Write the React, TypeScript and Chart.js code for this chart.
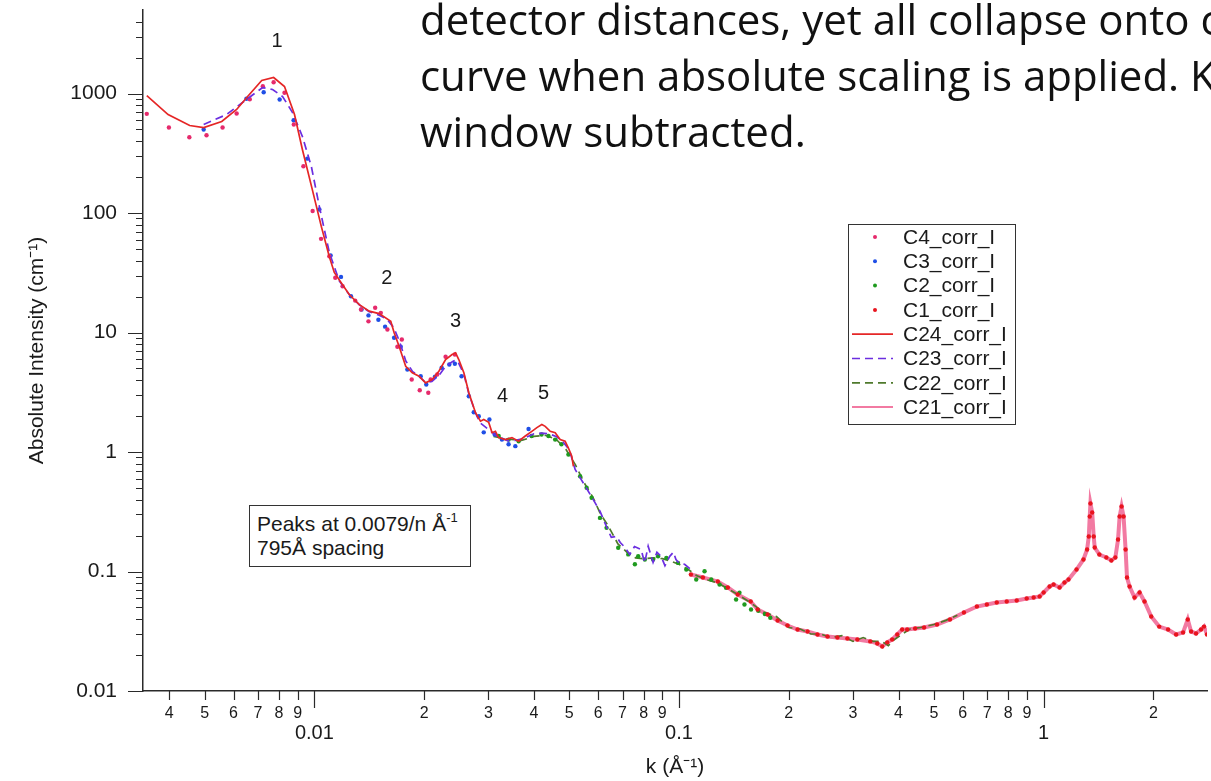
import React, { useEffect, useRef } from 'react';
import { Chart, registerables } from 'chart.js';

Chart.register(...registerables);

const FONT = '"Liberation Sans", Arial, Helvetica, sans-serif';

// ---------------- data (k in 1/Å, intensity in 1/cm) ----------------
const c4K = [0.00347, 0.00399, 0.00454, 0.00506, 0.0056, 0.00612, 0.00665, 0.00722, 0.00773, 0.00828, 0.00878, 0.00933, 0.00989, 0.01043, 0.01099, 0.01141, 0.01195, 0.01294, 0.01342, 0.01407, 0.01468, 0.01521, 0.01586, 0.01689, 0.01737, 0.01849, 0.01945, 0.02053, 0.02084, 0.02172, 0.0229, 0.02428];
const c4I = [676, 519, 431, 448, 519, 680, 896, 1151, 1243, 1014, 550, 246, 104, 60.8, 43.5, 28.7, 24.4, 18.5, 15.6, 12.4, 16.1, 14.6, 10.6, 7.59, 8.74, 4.04, 3.29, 3.13, 4.04, 4.45, 6.26, 6.54];

const c3K = [0.00497, 0.00651, 0.00726, 0.00803, 0.00877, 0.00956, 0.01032, 0.01108, 0.01183, 0.0126, 0.01347, 0.01407, 0.01498, 0.01563, 0.01654, 0.01725, 0.01799, 0.01957, 0.02027, 0.02141, 0.02234, 0.02344, 0.02428, 0.02533, 0.02652, 0.02736, 0.02824, 0.02914, 0.0302, 0.03122, 0.03269, 0.03409, 0.03557, 0.03867];
const c3I = [500, 903, 1025, 891, 597, 285, 107, 44.1, 29.2, 20.1, 15.6, 13.9, 12.8, 11.2, 9.03, 7.59, 4.9, 4.31, 3.67, 4.26, 5.07, 5.4, 5.47, 4.31, 2.93, 2.15, 1.99, 1.46, 1.87, 1.4, 1.27, 1.16, 1.12, 1.56];

const c2K = [0.03202, 0.03409, 0.03632, 0.0394, 0.04198, 0.04385, 0.04575, 0.0476, 0.04974, 0.05355, 0.0558, 0.05758, 0.06071, 0.06328, 0.06812, 0.07256, 0.07568, 0.07727, 0.0806, 0.08492, 0.08761, 0.09232, 0.09938, 0.1047, 0.1115, 0.1175, 0.1226, 0.1292, 0.1346, 0.1434, 0.1465, 0.1512, 0.1576, 0.165, 0.172, 0.178];
const c2I = [1.36, 1.27, 1.23, 1.36, 1.4, 1.36, 1.27, 1.16, 0.953, 0.627, 0.502, 0.414, 0.281, 0.232, 0.158, 0.139, 0.115, 0.134, 0.126, 0.126, 0.134, 0.13, 0.118, 0.104, 0.0857, 0.1006, 0.0857, 0.0778, 0.073, 0.0583, 0.0664, 0.053, 0.0481, 0.047, 0.044, 0.041];

const c1K = [0.1078, 0.1163, 0.1278, 0.1361, 0.1449, 0.1573, 0.1643, 0.175, 0.1864, 0.1985, 0.2114, 0.2252, 0.2398, 0.2554, 0.2719, 0.2896, 0.3084, 0.3346, 0.3497, 0.3609, 0.3724, 0.3843, 0.3967, 0.4093, 0.4224, 0.4442, 0.47, 0.5101, 0.5535, 0.6045, 0.6561, 0.6987, 0.7438, 0.7922, 0.8437, 0.8986, 0.9391, 0.9752, 1.0, 1.0385, 1.065, 1.106, 1.141, 1.17, 1.231, 1.286, 1.316, 1.33, 1.338, 1.344, 1.359, 1.372, 1.381, 1.422, 1.486, 1.534, 1.573, 1.6, 1.616, 1.636, 1.657, 1.678, 1.693, 1.721, 1.776, 1.833, 1.891, 1.973, 2.075, 2.195, 2.309, 2.413, 2.485, 2.538, 2.618, 2.702, 2.754, 2.806];
const c1I = [0.0944, 0.0891, 0.0825, 0.0735, 0.0642, 0.0561, 0.0481, 0.0437, 0.0389, 0.0353, 0.0327, 0.0315, 0.0297, 0.0286, 0.028, 0.0275, 0.027, 0.026, 0.025, 0.0236, 0.0255, 0.027, 0.0297, 0.0327, 0.0327, 0.0333, 0.034, 0.036, 0.0397, 0.0454, 0.0509, 0.0529, 0.055, 0.0561, 0.0572, 0.0594, 0.0606, 0.0618, 0.0667, 0.0749, 0.0778, 0.0735, 0.0809, 0.0857, 0.1039, 0.126, 0.1528, 0.1963, 0.2886, 0.3707, 0.3117, 0.1963, 0.1588, 0.1388, 0.131, 0.1237, 0.131, 0.1853, 0.2886, 0.3499, 0.2886, 0.1528, 0.0891, 0.0749, 0.0606, 0.0667, 0.0561, 0.042, 0.0346, 0.0327, 0.0297, 0.0309, 0.0397, 0.0315, 0.0303, 0.0327, 0.0346, 0.0297];

const c24K = [0.00347, 0.00397, 0.00455, 0.00497, 0.00557, 0.00612, 0.00656, 0.00717, 0.00773, 0.00828, 0.00882, 0.00927, 0.00987, 0.01045, 0.01099, 0.01134, 0.01183, 0.01246, 0.01328, 0.01414, 0.01505, 0.0162, 0.01654, 0.01707, 0.0178, 0.01856, 0.01936, 0.02019, 0.02104, 0.02195, 0.0229, 0.02386, 0.02439, 0.02489, 0.0257, 0.02652, 0.02766, 0.02854, 0.02914, 0.03007, 0.03071, 0.03137, 0.03202, 0.03341, 0.03482, 0.03632, 0.03788, 0.03948, 0.04075, 0.04205, 0.04296, 0.04434, 0.04575, 0.04721, 0.04871, 0.04974, 0.05081, 0.05133];
const c24I = [962, 667, 540, 519, 583, 735, 944, 1285, 1361, 1144, 667, 340, 157, 77, 43, 31.8, 26.2, 20.8, 17.1, 15.1, 14.4, 12.4, 10.0, 7.68, 5.22, 4.6, 4.31, 3.79, 4.04, 4.74, 5.94, 6.54, 6.76, 5.94, 4.6, 3.13, 2.13, 1.81, 1.87, 1.77, 1.45, 1.49, 1.32, 1.27, 1.32, 1.23, 1.36, 1.49, 1.6, 1.7, 1.64, 1.49, 1.45, 1.27, 1.23, 1.08, 0.92, 0.76];

const c23K = [0.00497, 0.00574, 0.00651, 0.00721, 0.00768, 0.00818, 0.00871, 0.00927, 0.00981, 0.01032, 0.01099, 0.0117, 0.0125, 0.0133, 0.0141, 0.015, 0.0158, 0.0165, 0.0171, 0.0178, 0.0186, 0.0194, 0.0202, 0.021, 0.022, 0.0229, 0.0239, 0.0244, 0.0249, 0.0257, 0.0265, 0.0277, 0.0285, 0.03, 0.0314, 0.0327, 0.034, 0.0355, 0.037, 0.0385, 0.04, 0.042, 0.044, 0.046, 0.048, 0.05, 0.0519, 0.0553, 0.0575, 0.0607, 0.0632, 0.0652, 0.0673, 0.069, 0.0711, 0.0733, 0.0755, 0.0787, 0.0805, 0.0823, 0.0849, 0.087, 0.0893, 0.0915, 0.0943, 0.0965, 0.0981, 0.1, 0.1036, 0.1078];
const c23I = [550, 667, 891, 1122, 1080, 944, 693, 437, 245, 113, 46.7, 27, 20.5, 17, 15, 14, 13, 11, 8.5, 5.8, 4.7, 4.3, 3.8, 3.9, 4.4, 5.2, 5.7, 5.9, 5.5, 4.5, 3.1, 2.1, 1.75, 1.55, 1.38, 1.3, 1.24, 1.25, 1.28, 1.35, 1.42, 1.44, 1.42, 1.35, 1.22, 1.05, 0.714, 0.518, 0.425, 0.32, 0.239, 0.193, 0.197, 0.175, 0.159, 0.139, 0.162, 0.153, 0.118, 0.163, 0.119, 0.145, 0.134, 0.112, 0.134, 0.145, 0.126, 0.118, 0.115, 0.104];

const c22K = [0.031, 0.034, 0.037, 0.04, 0.043, 0.046, 0.049, 0.052, 0.055, 0.058, 0.061, 0.064, 0.068, 0.072, 0.076, 0.08, 0.085, 0.09, 0.095, 0.1, 0.106, 0.112, 0.12, 0.128, 0.136, 0.145, 0.157, 0.17, 0.185, 0.2, 0.215, 0.23, 0.245, 0.26, 0.28, 0.3, 0.32, 0.34, 0.36, 0.375, 0.39, 0.41, 0.43, 0.46, 0.5, 0.54, 0.58];
const c22I = [1.35, 1.28, 1.25, 1.35, 1.38, 1.28, 1.05, 0.78, 0.55, 0.42, 0.3, 0.24, 0.17, 0.145, 0.13, 0.128, 0.13, 0.128, 0.122, 0.115, 0.104, 0.092, 0.085, 0.08, 0.072, 0.064, 0.055, 0.046, 0.042, 0.034, 0.033, 0.03, 0.03, 0.028, 0.029, 0.026, 0.028, 0.026, 0.026, 0.024, 0.027, 0.03, 0.033, 0.034, 0.036, 0.039, 0.043];

const c21K = c1K;
const c21I = c1I;

// peak annotations
const peakText = ['1', '2', '3', '4', '5'];
const peakK = [0.0079, 0.0158, 0.0244, 0.0328, 0.0425];
const peakI = [2725, 28.3, 12.4, 2.91, 3.09];

// axes
const xMin = 0.003388;
const xMax = 2.806;
const yMin = 0.01;
const yMax = 5000;
const xTickValues = [0.004, 0.005, 0.006, 0.007, 0.008, 0.009, 0.01, 0.02, 0.03, 0.04, 0.05, 0.06, 0.07, 0.08, 0.09, 0.1, 0.2, 0.3, 0.4, 0.5, 0.6, 0.7, 0.8, 0.9, 1, 2];
const xTickLabels = ['4', '5', '6', '7', '8', '9', '0.01', '2', '3', '4', '5', '6', '7', '8', '9', '0.1', '2', '3', '4', '5', '6', '7', '8', '9', '1', '2'];
const xMajorTicks = [0.01, 0.1, 1];
const yTickValues = [0.01, 0.02, 0.03, 0.04, 0.05, 0.06, 0.07, 0.08, 0.09, 0.1, 0.2, 0.3, 0.4, 0.5, 0.6, 0.7, 0.8, 0.9, 1, 2, 3, 4, 5, 6, 7, 8, 9, 10, 20, 30, 40, 50, 60, 70, 80, 90, 100, 200, 300, 400, 500, 600, 700, 800, 900, 1000, 2000, 3000, 4000];
const yMajorTicks = [0.01, 0.1, 1, 10, 100, 1000];
const yMajorLabels = ['0.01', '0.1', '1', '10', '100', '1000'];

const AXIS = '#2a2a2a';
const TEXT = '#1a1a1a';

const isIn = (arr: number[], v: number) => arr.some((a) => Math.abs(a - v) / a < 1e-6);

function dots(label: string, k: number[], I: number[], color: string, order: number) {
  return {
    label,
    data: k.map((x, i) => ({ x, y: I[i] })),
    showLine: false,
    pointRadius: 2.2,
    pointBorderWidth: 0,
    pointBackgroundColor: color,
    backgroundColor: color,
    borderColor: color,
    order,
  };
}

function line(label: string, k: number[], I: number[], color: string, width: number, dash: number[], order: number) {
  return {
    label,
    data: k.map((x, i) => ({ x, y: I[i] })),
    showLine: true,
    pointRadius: 0,
    borderColor: color,
    backgroundColor: color,
    borderWidth: width,
    borderDash: dash,
    tension: 0,
    fill: false,
    order,
  };
}

const overlayPlugin = {
  id: 'overlay',
  afterDraw(chart: any) {
    const { ctx, chartArea } = chart;
    const xs = chart.scales.x;
    const ys = chart.scales.y;
    ctx.save();
    // tick marks
    ctx.strokeStyle = AXIS;
    ctx.lineWidth = 1.2;
    ctx.beginPath();
    xTickValues.forEach((v) => {
      const px = Math.round(xs.getPixelForValue(v)) + 0.5;
      const len = isIn(xMajorTicks, v) ? 17 : 9;
      ctx.moveTo(px, chartArea.bottom);
      ctx.lineTo(px, chartArea.bottom + len);
    });
    yTickValues.forEach((v) => {
      const py = Math.round(ys.getPixelForValue(v)) + 0.5;
      const len = isIn(yMajorTicks, v) ? 15 : 7;
      ctx.moveTo(chartArea.left, py);
      ctx.lineTo(chartArea.left - len, py);
    });
    ctx.stroke();

    // peak numbers
    ctx.fillStyle = TEXT;
    ctx.font = `20px ${FONT}`;
    ctx.textAlign = 'center';
    ctx.textBaseline = 'middle';
    peakText.forEach((t, i) => {
      ctx.fillText(t, xs.getPixelForValue(peakK[i]), ys.getPixelForValue(peakI[i]));
    });

    // legend
    const lx = 848.5, ly = 224.5, lw = 167, lh = 200;
    ctx.fillStyle = '#ffffff';
    ctx.fillRect(lx, ly, lw, lh);
    ctx.strokeStyle = '#333';
    ctx.lineWidth = 1;
    ctx.setLineDash([]);
    ctx.strokeRect(lx, ly, lw, lh);
    ctx.font = `21px ${FONT}`;
    ctx.textAlign = 'left';
    chart.data.datasets.forEach((d: any, i: number) => {
      const cy = 237 + i * 24.3;
      if (d.showLine) {
        ctx.strokeStyle = d.borderColor;
        ctx.lineWidth = Math.min(d.borderWidth, 2);
        ctx.setLineDash(d.borderDash || []);
        ctx.beginPath();
        ctx.moveTo(852, cy);
        ctx.lineTo(893, cy);
        ctx.stroke();
        ctx.setLineDash([]);
      } else {
        ctx.fillStyle = d.pointBackgroundColor;
        ctx.beginPath();
        ctx.arc(875, cy, 2, 0, Math.PI * 2);
        ctx.fill();
      }
      ctx.fillStyle = TEXT;
      ctx.fillText(d.label, 903, cy + 1);
    });
    ctx.restore();
  },
};

export default function App() {
  const ref = useRef<HTMLCanvasElement>(null);
  useEffect(() => {
    const canvas = ref.current;
    if (!canvas) return;
    Chart.defaults.font.family = FONT;
    Chart.defaults.color = TEXT;
    const chart = new Chart(canvas, {
      type: 'scatter',
      data: {
        datasets: [
          dots('C4_corr_I', c4K, c4I, '#e62a6c', 3),
          dots('C3_corr_I', c3K, c3I, '#1f4fe6', 4),
          dots('C2_corr_I', c2K, c2I, '#1e9a1e', 5),
          dots('C1_corr_I', c1K, c1I, '#e8141e', 1),
          line('C24_corr_I', c24K, c24I, '#e52626', 1.7, [], 0),
          line('C23_corr_I', c23K, c23I, '#6b2ee0', 1.7, [8, 5], 2),
          line('C22_corr_I', c22K, c22I, '#4f7a2c', 1.7, [8, 5], 6),
          line('C21_corr_I', c21K, c21I, '#f27aa2', 4, [], 7),
        ] as any,
      },
      options: {
        responsive: false,
        animation: false,
        events: [],
        layout: { padding: { top: 10, left: 0, right: 0, bottom: 0 } },
        plugins: { legend: { display: false }, tooltip: { enabled: false } },
        scales: {
          x: {
            type: 'logarithmic',
            min: xMin,
            max: xMax,
            bounds: 'data',
            grid: { display: true, drawOnChartArea: false, drawTicks: false },
            border: { display: true, color: AXIS, width: 1.5 },
            afterBuildTicks: (scale: any) => {
              scale.ticks = xTickValues.map((v) => ({ value: v, major: isIn(xMajorTicks, v) }));
            },
            afterFit: (scale: any) => {
              scale.height = 90;
              scale.paddingLeft = 0;
              scale.paddingRight = 0;
            },
            ticks: {
              autoSkip: false,
              maxRotation: 0,
              minRotation: 0,
              padding: 13,
              color: TEXT,
              callback: (_v: any, i: number) => xTickLabels[i],
              font: (ctx: any) =>
                ctx.tick && ctx.tick.major
                  ? { family: FONT, size: 20, lineHeight: 2.95 }
                  : { family: FONT, size: 16, lineHeight: 1.2 },
            },
            title: {
              display: true,
              text: 'k (Å⁻¹)',
              color: TEXT,
              font: { family: FONT, size: 21 },
              padding: { top: 0, bottom: 1 },
            },
          },
          y: {
            type: 'logarithmic',
            min: yMin,
            max: yMax,
            bounds: 'data',
            grid: { display: true, drawOnChartArea: false, drawTicks: false },
            border: { display: true, color: AXIS, width: 1.5 },
            afterBuildTicks: (scale: any) => {
              scale.ticks = yTickValues.map((v) => ({ value: v, major: isIn(yMajorTicks, v) }));
            },
            afterFit: (scale: any) => {
              scale.width = 143;
              scale.paddingTop = 0;
              scale.paddingBottom = 0;
            },
            ticks: {
              autoSkip: false,
              padding: 26,
              color: TEXT,
              font: { family: FONT, size: 21 },
              callback: (v: any) => {
                const idx = yMajorTicks.findIndex((m) => Math.abs(m - v) / m < 1e-6);
                return idx >= 0 ? yMajorLabels[idx] : '';
              },
            },
            title: {
              display: true,
              text: 'Absolute Intensity (cm⁻¹)',
              color: TEXT,
              font: { family: FONT, size: 21 },
              padding: { top: 25, bottom: 0 },
            },
          },
        },
      } as any,
      plugins: [overlayPlugin],
    });
    return () => chart.destroy();
  }, []);

  return (
    <div style={{ position: 'fixed', left: 0, top: 0, width: 1211, height: 781, overflow: 'hidden', background: '#fff' }}>
      <canvas ref={ref} width={1211} height={781} style={{ position: 'absolute', left: 0, top: 0, width: 1211, height: 781 }} />
      <div
        style={{
          position: 'absolute',
          left: 420,
          top: -9,
          fontFamily: '"Open Sans", "Noto Sans", sans-serif',
          fontSize: 42,
          lineHeight: '56px',
          whiteSpace: 'pre',
          color: '#111',
        }}
      >
        {'detector distances, yet all collapse onto common\ncurve when absolute scaling is applied. Kapton\nwindow subtracted.'}
      </div>
      <div
        style={{
          position: 'absolute',
          left: 249,
          top: 505,
          width: 222,
          height: 62,
          boxSizing: 'border-box',
          border: '1px solid #333',
          background: '#fff',
          fontFamily: FONT,
          fontSize: 21,
          lineHeight: '24px',
          padding: '6px 0 0 7px',
          color: TEXT,
          whiteSpace: 'pre',
        }}
      >
        Peaks at 0.0079/n Å
        <span style={{ fontSize: 13, position: 'relative', top: -9, lineHeight: 0 }}>-1</span>
        {'\n'}795Å spacing
      </div>
    </div>
  );
}
